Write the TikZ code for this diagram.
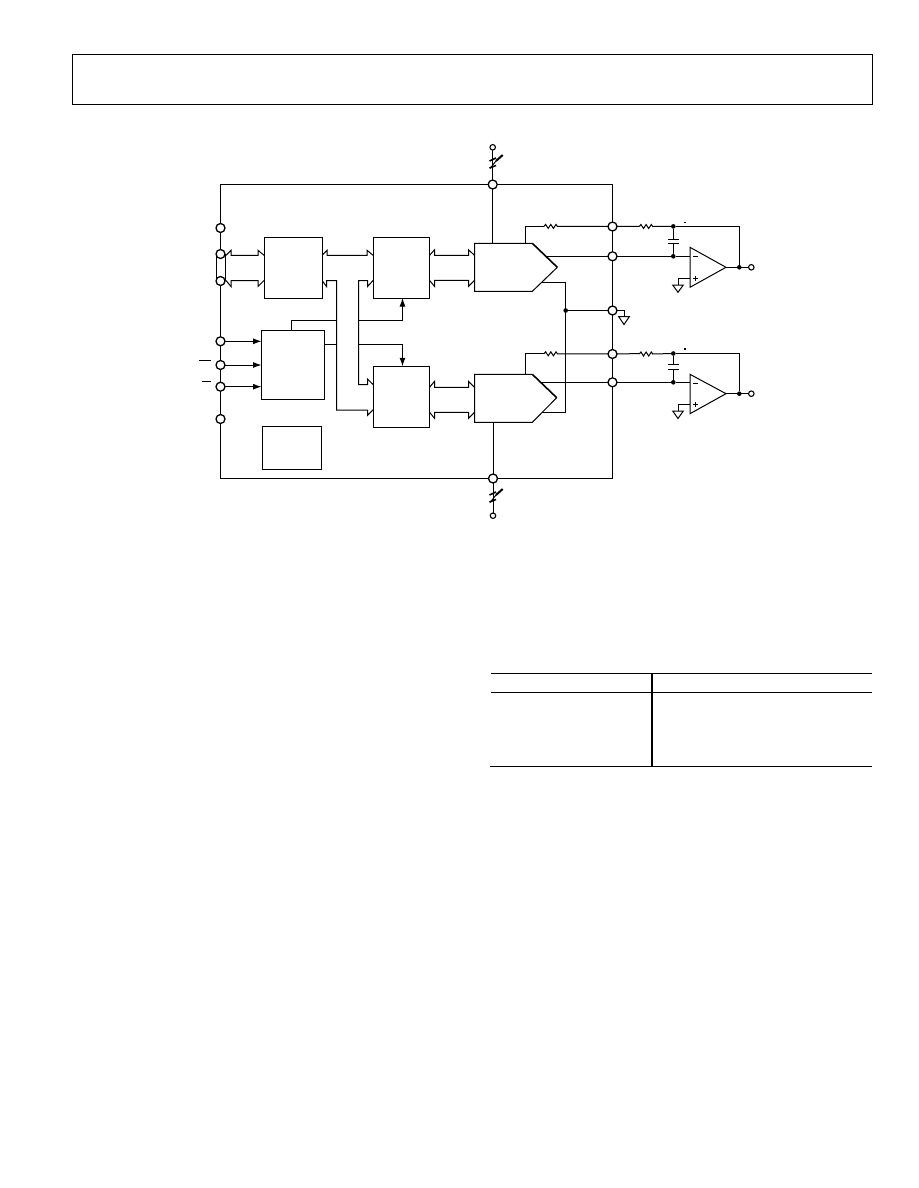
\documentclass[tikz,border=0pt]{standalone}
\usetikzlibrary{arrows.meta,calc}
\pgfdeclarelayer{wires}
\pgfsetlayers{wires,main}
\tikzset{
  conn/.style={draw=black,line width=1pt,line join=miter},
  pinc/.style={circle,draw=black,fill=white,line width=1.3pt,minimum size=9pt,inner sep=0pt,outer sep=0pt},
  smallpin/.style={circle,draw=black,fill=white,line width=1.1pt,minimum size=5.5pt,inner sep=0pt,outer sep=0pt},
  dotc/.style={circle,fill=black,minimum size=4.6pt,inner sep=0pt,outer sep=0pt},
  blk/.style={rectangle,draw=black,fill=white,line width=1pt,inner sep=0pt,outer sep=0pt},
  arr/.style={conn,-{Latex[length=8.5pt,width=6pt]}},
  rule/.style={draw=black,line width=1pt}
}
% half-arrow bus from #1 to #2, barbs offset by #3
\newcommand\busline[3]{\draw[conn] (#1) -- ++(5,#3) -- ++(0,-#3) -- ($(#2)+(-6,0)$) -- ++(0,#3) -- (#2);}
\newcommand\zigzag[2]{\draw[conn] (#1) -- ++(1.6,-2) -- ++(2.6,4) -- ++(2.6,-4) -- ++(2.6,4) -- ++(2.6,-4) -- ++(1.4,2) -- (#2);}
\newcommand\ferrite[1]{%
  \draw[line width=1.6pt] (489.5,#1+1) -- (496,#1-2) (489.5,#1+8) -- (496,#1+5.5);
  \draw[line width=1pt] (490,#1+8.5) -- (496,#1+1);
  \draw[line width=2pt] (496,#1+1) -- (502.7,#1-5);
}
\begin{document}
\begin{tikzpicture}[x=1pt,y=-1pt]
\useasboundingbox (0,0) rectangle (918,1188);
% page frame and table
\begin{pgfonlayer}{wires}
\fill[white] (0,0) rectangle (918,1188);
\end{pgfonlayer}
\node[blk,fill=none,minimum width=800pt,minimum height=50.5pt] (header) at (472.3,79.3) {};
\draw[rule] (491,673.3) -- (872,673.3);
\draw[rule] (491,692.3) -- (872,692.3);
\draw[rule] (490,766.3) -- (872,766.3);
\draw[line width=2pt] (652,673.3) -- (652,766.3);
% pins
\node[pinc] (L1) at (220.5,228) {};
\node[pinc] (L2) at (220.5,254) {};
\node[pinc] (L3) at (220.5,281) {};
\node[pinc] (L4) at (220.5,341.3) {};
\node[pinc] (L5) at (220.5,365) {};
\node[pinc] (L6) at (220.5,386.7) {};
\node[pinc] (L7) at (220.5,419) {};
\node[pinc] (ptop) at (492.7,184.5) {};
\node[pinc] (pbot) at (493,478.5) {};
\node[pinc] (R1) at (612.5,226.5) {};
\node[pinc] (R2) at (612.5,256.3) {};
\node[pinc] (R3) at (612.5,310.5) {};
\node[pinc] (R4) at (612.5,354) {};
\node[pinc] (R5) at (612.5,382.3) {};
\node[smallpin] (vtop) at (492.7,147.3) {};
\node[smallpin] (vbot) at (493,515.7) {};
\node[smallpin] (out1) at (751.3,267.3) {};
\node[smallpin] (out2) at (751.3,393.7) {};
% blocks
\node[blk,minimum width=58pt,minimum height=60.5pt] (A) at (293,267.8) {};
\node[blk,minimum width=56.5pt,minimum height=60.5pt] (B) at (401.3,267.8) {};
\node[blk,minimum width=63pt,minimum height=69pt] (C) at (293,364.8) {};
\node[blk,minimum width=59.5pt,minimum height=43pt] (D) at (292.2,448) {};
\node[blk,minimum width=56.5pt,minimum height=61pt] (E) at (401.3,396.8) {};
% DACs
\draw[conn] (532.3,243.3) -- (474.5,243.3) -- (474.5,291.3) -- (532.3,291.3) -- (557.3,267.3);
\draw[line width=1.6pt] (532.3,243.3) -- (557.3,267.3);
\draw[conn] (532.3,374.3) -- (474.5,374.3) -- (474.5,422.3) -- (532.3,422.3) -- (556.7,397.7);
\draw[line width=1.6pt] (532.3,374.3) -- (556.7,397.7);
\coordinate (dacAw1) at (474.5,255.3);
\coordinate (dacAw2) at (474.5,280.4);
\coordinate (dacBw1) at (474.5,387.3);
\coordinate (dacBw2) at (474.5,412.3);
% op amps
\draw[conn] (690,247.3) -- (690,287.3) -- (726,267.3) -- cycle;
\draw[conn] (690,374.3) -- (690,413.7) -- (726,393.7) -- cycle;
\draw[line width=0.8pt] (693,256.7) -- (697.5,256.7) (693,278.3) -- (698,278.3) (695.5,275.8) -- (695.5,280.8);
\draw[line width=0.8pt] (693,383.3) -- (697.5,383.3) (693,404.3) -- (698,404.3) (695.5,401.8) -- (695.5,406.8);
\coordinate (opA) at (726,267.3);
\coordinate (opB) at (726,393.7);
% dots
\node[dotc] (d1) at (673.3,226.4) {};
\node[dotc] (d2) at (673.3,256.3) {};
\node[dotc] (d3) at (739.3,267.3) {};
\node[dotc] (d4) at (565.7,310.5) {};
\node[dotc] (d5) at (673.3,353.5) {};
\node[dotc] (d6) at (673.3,382.3) {};
\node[dotc] (d7) at (739.3,393.7) {};
% grounds
\draw[conn,fill=white] (672.7,285) -- (683.3,285) -- (678,292.3) -- cycle;
\draw[conn,fill=white] (672.7,411) -- (683.3,411) -- (678,418.5) -- cycle;
\draw[conn,fill=white] (618.7,316.7) -- (629.3,316.7) -- (624,324.5) -- cycle;
% tiny marks
\fill (684,221.8) rectangle (686,222.8);
\fill (684.3,348.3) rectangle (686,349.8);
\begin{pgfonlayer}{wires}
% outer frame
\draw[conn] (ptop.west) -| (L1.north);
\draw[conn] (ptop.east) -| (R1.north);
\draw[conn] (pbot.west) -| (L7.south);
\draw[conn] (pbot.east) -| (R5.south);
\draw[conn] (L1) -- (L2) (L3) -- (L4) -- (L5) -- (L6) -- (L7);
\draw[conn] (R1) -- (R2) -- (R3) -- (R4) -- (R5);
% L2-L3 link
\draw[conn] (216.7,254) -- (216.7,281) (225.5,254) -- (225.5,281);
% supply
\draw[conn] (vtop) -- (ptop);
\draw[conn] (vbot) -- (pbot);
\draw[conn] (ptop) -- (ptop |- 0,243.3);
\draw[conn] (pbot) -- (pbot |- 0,422.3);
\ferrite{160}
\ferrite{494}
% left buses
\coordinate (a1) at (226,255.3); \coordinate (a2) at (A.west |- 0,255.3);
\coordinate (a3) at (226,280.5); \coordinate (a4) at (A.west |- 0,280.5);
\busline{a1}{a2}{-5}
\busline{a3}{a4}{6}
% A to B
\coordinate (ab1) at (A.east |- 0,255.3); \coordinate (ab2) at (B.west |- 0,255.3);
\busline{ab1}{ab2}{-5}
% B to DAC A
\coordinate (b1) at (B.east |- 0,255.3); \coordinate (b2) at (B.east |- 0,280.4);
\busline{b1}{dacAw1}{-5.5}
\busline{b2}{dacAw2}{6}
% E to DAC B
\coordinate (e1) at (E.east |- 0,387.3); \coordinate (e2) at (E.east |- 0,412.3);
\busline{e1}{dacBw1}{-6}
\busline{e2}{dacBw2}{6}
% A lower right to E lower left
\coordinate (ar) at (A.east |- 0,280.5);
\coordinate (el) at (E.west |- 0,409.7);
\draw[conn] (ar) -- ++(4.5,6) -- ++(0,-6) -- (336.5,280.5) -- (336.5,410) -- (367.5,410) -- ++(0,5.5) -- (el);
% B lower left to E upper left
\coordinate (bl) at (B.west |- 0,280.5);
\coordinate (eu) at (E.west |- 0,384.5);
\draw[conn] (bl) -- ++(-5.5,6) -- ++(0,-6) -- (358.5,280.5) -- (358.5,384.5) -- (367.5,384.5) -- ++(0,-5.5) -- (eu);
% control lines
\draw[arr] (358.5,320.5) -- (402.5,320.5) -- (B.south -| 402.5,0);
\draw[arr] (358.5,344.5) -- (402.5,344.5) -- (E.north -| 402.5,0);
\draw[conn] (C.north -| 291.3,0) -- (291.3,320.5) -- (336.5,320.5);
\draw[conn] (C.east |- 0,344.5) -- (336.5,344.5);
% pin inputs
\draw[arr] (L4) -- (C.west |- L4);
\draw[arr] (L5) -- (C.west |- L5);
\draw[arr] (L6) -- (C.west |- L6);
% DAC A outputs
\coordinate (ra1) at (544,226.4);
\coordinate (rb1) at (639.3,226.4);
\coordinate (ra2) at (544,353.8);
\coordinate (rb2) at (639.3,353.6);
\draw[conn] (525.3,243.3) -- (525.3,226.4) -- (ra1);
\zigzag{ra1}{R1}
\zigzag{R1.east -| rb1}{d1}
\draw[conn] (R1) -- (rb1);
\draw[conn] (546,256.3) -- (R2);
\draw[conn] (R2) -- (d2);
\draw[conn] (d2) -- (690,256.3);
\draw[conn] (d1) -- (739.3,226.4) -- (d3);
\draw[conn] (opA) -- (out1);
\draw[conn] (541.7,282) -- (565.7,282) -- (565.7,412.3) -- (541.7,412.3);
\draw[conn] (d4) -- (R3);
\draw[conn] (R3) -- (624,310.5) -- (624,316.7);
\draw[conn] (690,278.3) -- (678,278.3) -- (678,285);
% capacitor 1
\draw[conn] (d1) -- (673.3,239.3) (673.3,243.3) -- (d2);
\draw[line width=1pt] (668,239.3) -- (679,239.3) (668,243.3) -- (679,243.3);
% DAC B outputs
\draw[conn] (525.3,374.3) -- (525.3,353.8) -- (ra2);
\zigzag{ra2}{R4}
\zigzag{R4.east -| rb2}{d5}
\draw[conn] (R4) -- (rb2);
\draw[conn] (541,382.3) -- (R5);
\draw[conn] (R5) -- (d6);
\draw[conn] (d6) -- (690,382.3);
\draw[conn] (d5) -- (739.3,353.5) -- (d7);
\draw[conn] (opB) -- (out2);
\draw[conn] (690,404.3) -- (678,404.3) -- (678,411);
% capacitor 2
\draw[conn] (d5) -- (673.3,364.7) (673.3,369.3) -- (d6);
\draw[line width=1pt] (668,364.7) -- (679,364.7) (668,369.3) -- (679,369.3);
% overbars
\draw[line width=0.8pt] (199,360) -- (211,360);
\draw[line width=0.8pt] (202,381.3) -- (211,381.3);
\end{pgfonlayer}
\end{tikzpicture}
\end{document}
